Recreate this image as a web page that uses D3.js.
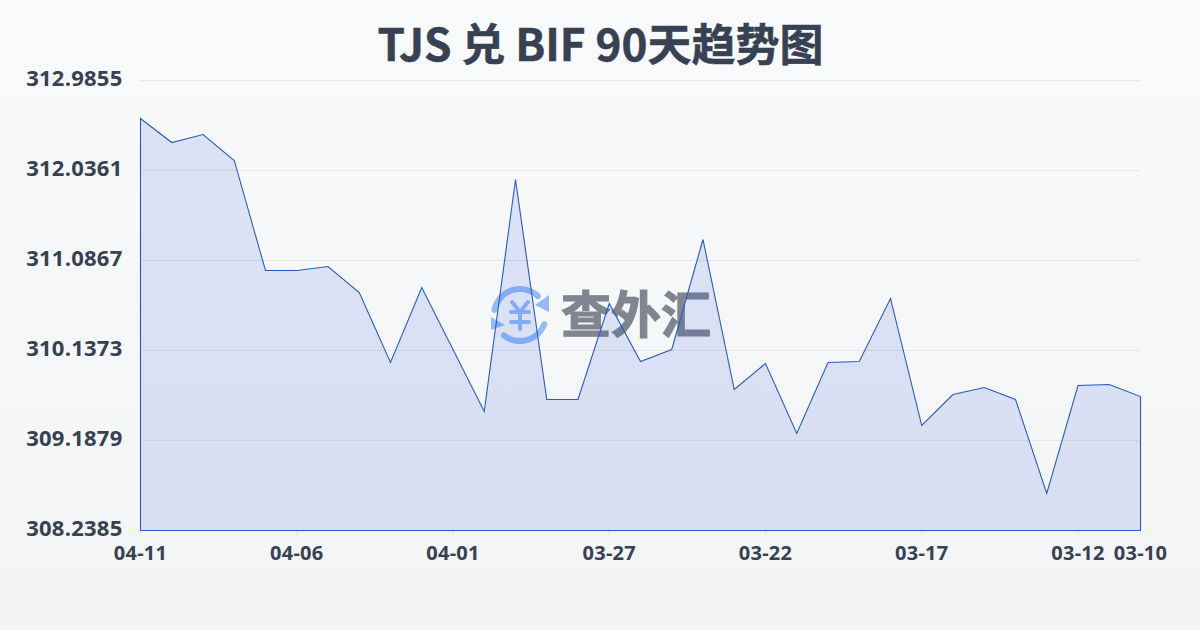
<!DOCTYPE html>
<html><head><meta charset="utf-8">
<script src="https://cdn.jsdelivr.net/npm/d3@7"></script>
<style>html,body{margin:0;padding:0;overflow:hidden}svg{display:block}</style>
</head><body><svg id="c" width="1200" height="630"></svg>
<script>
const titleText = "TJS 兑 BIF 90天趋势图";
const watermarkText = "查外汇";
const dates = ["04-11","04-10","04-09","04-08","04-07","04-06","04-05","04-04","04-03","04-02","04-01","03-31","03-30","03-29","03-28","03-27","03-26","03-25","03-24","03-23","03-22","03-21","03-20","03-19","03-18","03-17","03-16","03-15","03-14","03-13","03-12","03-11","03-10"];
const rates = [312.585,312.331,312.416,312.142,310.981,310.981,311.023,310.749,310.011,310.802,310.148,309.494,311.941,309.620,309.620,310.633,310.021,310.148,311.308,309.726,310.000,309.262,310.011,310.021,310.686,309.346,309.673,309.747,309.620,308.629,309.768,309.779,309.652];
const yTicks = [308.2385,309.1879,310.1373,311.0867,312.0361,312.9855];
const xTickLabels = ["04-11","04-06","04-01","03-27","03-22","03-17","03-12","03-10"];

const svg = d3.select("#c");
const defs = svg.append("defs");
const bg = defs.append("linearGradient").attr("id","bg").attr("x1",0).attr("y1",0).attr("x2",0).attr("y2",1);
bg.append("stop").attr("offset","0%").attr("stop-color","#f9fafc");
bg.append("stop").attr("offset","100%").attr("stop-color","#f3f4f6");
svg.append("rect").attr("width",1200).attr("height",630).attr("fill","url(#bg)");

const x = d3.scalePoint().domain(dates).range([140.5,1140.5]);
const y = d3.scaleLinear().domain([yTicks[0],yTicks[yTicks.length-1]]).range([530.5,80.5]);
const font = "'Noto Sans CJK SC',sans-serif";
const tickFont = "'Open Sans','Noto Sans',sans-serif";

svg.append("text").text(titleText).attr("x",600.5).attr("y",61).attr("text-anchor","middle")
  .attr("font-family",font).attr("font-size",44).attr("font-weight",700).attr("fill","#374151")
  .attr("stroke","#374151").attr("stroke-width",.5);

svg.append("g").selectAll("line").data(yTicks).join("line")
  .attr("x1",140).attr("x2",1140).attr("y1",d=>y(d)).attr("y2",d=>y(d))
  .attr("stroke","#e5e7eb").attr("stroke-width",1);

// watermark
const wm = svg.append("g");
const blue = "#93bbfb";
const lg = wm.append("g").attr("transform","translate(520,315)");
const ring = d3.arc().innerRadius(23).outerRadius(29).cornerRadius(3);
lg.append("path").attr("d",ring({startAngle:-1.49,endAngle:0.88})).attr("fill",blue);
lg.append("path").attr("d",ring({startAngle:1.82,endAngle:3.93})).attr("fill",blue);
lg.append("path").attr("d","M29 -20 L29 -3 L15 -10 Z").attr("fill",blue);
lg.append("path").attr("d","M-29 2 L-29 15 L-15 10 Z").attr("fill",blue);
lg.append("path").attr("d","M-8 -13 L0 -3 L8 -13 M-9 -3 H9 M-9 7 H9 M0 -3 V14").attr("fill","none").attr("stroke",blue).attr("stroke-width",4).attr("stroke-linecap","round").attr("stroke-linejoin","round");
wm.append("text").text(watermarkText).attr("x",636).attr("y",333).attr("text-anchor","middle")
  .attr("font-family",font).attr("font-size",50).attr("font-weight",700)
  .attr("fill","#80858f").attr("stroke","#80858f").attr("stroke-width",1.2);

const area = d3.area().x((d,i)=>x(dates[i])).y0(y(yTicks[0])).y1(d=>y(d));
svg.append("path").datum(rates).attr("d",area).attr("fill","#1d4ed8").attr("fill-opacity",.13)
  .attr("stroke","#2a5bc4").attr("stroke-width",1.1).attr("stroke-linejoin","miter");

const gx = svg.append("g");
gx.selectAll("line").data(xTickLabels).join("line")
  .attr("x1",d=>x(d)).attr("x2",d=>x(d)).attr("y1",531).attr("y2",537)
  .attr("stroke","#e5e7eb");
gx.selectAll("text").data(xTickLabels).join("text").text(d=>d)
  .attr("x",d=>x(d)).attr("y",560).attr("text-anchor","middle")
  .attr("font-family",tickFont).attr("font-size",20).attr("font-weight",700).attr("letter-spacing",.3).attr("fill","#374151");

const gy = svg.append("g");
gy.selectAll("text").data(yTicks).join("text").text(d=>d.toFixed(4))
  .attr("x",122.5).attr("y",d=>y(d)+5).attr("text-anchor","end")
  .attr("font-family",tickFont).attr("font-size",22).attr("font-weight",700).attr("letter-spacing",.25).attr("fill","#374151");
</script></body></html>
